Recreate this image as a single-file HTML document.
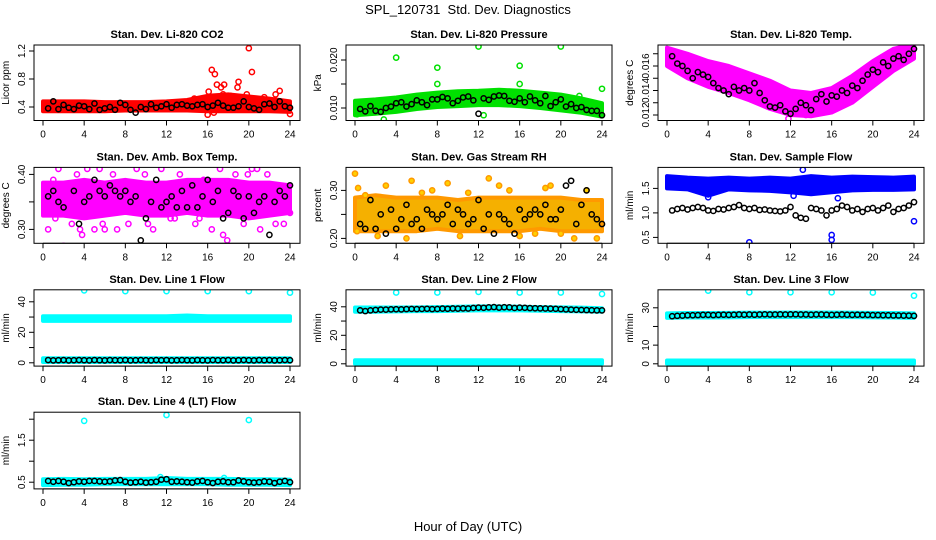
<!DOCTYPE html>
<html><head><meta charset="utf-8"><style>
body{margin:0;background:#fff}
svg{display:block;font-family:"Liberation Sans",Arial,sans-serif}
</style></head><body>
<svg id="c" width="936" height="540" viewBox="0 0 936 540">
<text x="468" y="14" text-anchor="middle" font-size="13">SPL_120731&#160; Std. Dev. Diagnostics</text>
<text x="468" y="531" text-anchor="middle" font-size="13">Hour of Day (UTC)</text>
</svg>
<script>
// shared categories
const bandHours=[0,2,4,6,8,10,12,14,16,18,20,22,24];
const xTicks=[0,4,8,12,16,20,24];
// P1 CO2
const co2Lo=[0.34,0.34,0.34,0.34,0.35,0.35,0.35,0.35,0.34,0.34,0.34,0.34,0.33];
const co2Hi=[0.48,0.48,0.48,0.47,0.47,0.47,0.48,0.50,0.56,0.58,0.55,0.52,0.48];
const co2OutH=[16.4,16.7,16.9,17.6,17.3,19.0,18.9,20.0,20.3,23.0,16.0,24.0,16.1,17.5,19.8,22.6,14.7,21.5,18.2,16.6];
const co2OutV=[0.93,0.87,0.72,0.72,0.68,0.76,0.68,1.24,0.90,0.63,0.29,0.30,0.62,0.58,0.58,0.58,0.52,0.54,0.56,0.32];
const co2Black=[0.38,0.48,0.37,0.43,0.39,0.37,0.42,0.41,0.37,0.45,0.36,0.38,0.40,0.36,0.46,0.43,0.36,0.32,0.40,0.37,0.44,0.39,0.41,0.44,0.39,0.43,0.44,0.42,0.41,0.43,0.44,0.40,0.42,0.46,0.42,0.39,0.39,0.41,0.48,0.40,0.38,0.36,0.44,0.45,0.40,0.48,0.41,0.39];
// P2 Pressure
const prLo=[0.0085,0.0088,0.0092,0.0098,0.0102,0.0104,0.0106,0.0106,0.0104,0.0100,0.0095,0.0090,0.0082];
const prHi=[0.0115,0.0118,0.0122,0.0128,0.0132,0.0135,0.0136,0.0138,0.0136,0.0132,0.0128,0.0120,0.0110];
const prOutH=[4,8,8,12,12.5,16,16,20,24,2.8,21.8,0.2];
const prOutV=[0.0205,0.0184,0.0150,0.0228,0.0085,0.0188,0.0150,0.0228,0.0140,0.0076,0.0125,0.0087];
const prBlack=[0.0098,0.0093,0.0104,0.0094,0.0092,0.0100,0.0103,0.0110,0.0112,0.0103,0.0108,0.0116,0.0112,0.0106,0.0118,0.0118,0.0123,0.0120,0.0110,0.0115,0.0122,0.0124,0.0116,0.0088,0.0120,0.0117,0.0124,0.0126,0.0125,0.0115,0.0113,0.0120,0.0112,0.0124,0.0116,0.0110,0.0125,0.0104,0.0112,0.0118,0.0103,0.0108,0.0100,0.0102,0.0096,0.0094,0.0094,0.0085];
// P3 Temp
const tLo=[0.0160,0.0150,0.0143,0.0138,0.0132,0.0125,0.0120,0.0119,0.0122,0.0130,0.0143,0.0156,0.0166];
const tHi=[0.0175,0.0170,0.0164,0.0160,0.0154,0.0148,0.0140,0.0138,0.0142,0.0152,0.0164,0.0174,0.0178];
const tOutH=[11.8,13.5,7,9.5];
const tOutV=[0.0117,0.0120,0.0152,0.0130];
const tBlack=[0.0168,0.0162,0.0160,0.0156,0.0150,0.0155,0.0153,0.0151,0.0146,0.0142,0.0140,0.0137,0.0143,0.0140,0.0142,0.0140,0.0146,0.0138,0.0132,0.0127,0.0126,0.0128,0.0123,0.0121,0.0125,0.0130,0.0128,0.0124,0.0133,0.0137,0.0131,0.0136,0.0135,0.0140,0.0138,0.0144,0.0142,0.0148,0.0153,0.0157,0.0155,0.0163,0.0160,0.0166,0.0168,0.0165,0.0170,0.0174];
// P4 Box temp
const bxLo=[0.325,0.325,0.32,0.325,0.33,0.325,0.325,0.33,0.325,0.325,0.32,0.325,0.33];
const bxHi=[0.385,0.385,0.39,0.385,0.39,0.385,0.385,0.39,0.39,0.39,0.385,0.385,0.38];
const bxOutH=[0.5,1,1.5,2,2.4,2.8,3.3,3.8,4.3,5,5.5,6,6.8,7.6,8.3,9.1,9.9,10.7,11.5,12.4,13.3,14.1,14.8,15.6,16.4,17.2,17.9,18.7,19.5,20.3,21.1,21.8,22.6,23.4,24,1.2,5.8,10.2,15.2,19.9,3.6,12.8,20.8,7.2,17.5];
const bxOutV=[0.30,0.39,0.41,0.27,0.42,0.31,0.40,0.29,0.41,0.30,0.41,0.30,0.40,0.42,0.31,0.41,0.40,0.30,0.41,0.32,0.40,0.42,0.31,0.39,0.30,0.41,0.28,0.40,0.31,0.41,0.30,0.40,0.31,0.31,0.33,0.32,0.31,0.31,0.32,0.40,0.30,0.32,0.41,0.30,0.29];
const bxBlack=[0.36,0.37,0.35,0.34,0.42,0.37,0.31,0.35,0.36,0.39,0.37,0.36,0.38,0.37,0.36,0.37,0.35,0.36,0.28,0.32,0.35,0.39,0.34,0.35,0.36,0.34,0.37,0.34,0.38,0.34,0.36,0.39,0.35,0.37,0.32,0.33,0.37,0.36,0.32,0.36,0.33,0.35,0.36,0.29,0.35,0.37,0.36,0.38];
// P5 RH
const rhLo=[0.215,0.215,0.215,0.215,0.22,0.215,0.215,0.215,0.215,0.22,0.215,0.215,0.215];
const rhHi=[0.285,0.29,0.285,0.285,0.285,0.28,0.285,0.285,0.285,0.285,0.285,0.28,0.28];
const rhOutH=[0,0.3,1,3,5.5,7.5,9,13,14,19,21.3,23.5,0.2,2.2,5,16,20,11,18.5,22.5,6.5,10.2,15,17.5];
const rhOutV=[0.335,0.305,0.29,0.31,0.32,0.30,0.315,0.325,0.31,0.31,0.20,0.20,0.215,0.205,0.20,0.205,0.21,0.295,0.305,0.30,0.295,0.205,0.30,0.21];
const rhBlack=[0.23,0.22,0.28,0.22,0.25,0.21,0.26,0.22,0.24,0.27,0.23,0.24,0.22,0.26,0.25,0.24,0.25,0.27,0.23,0.26,0.25,0.23,0.24,0.28,0.22,0.25,0.21,0.25,0.24,0.23,0.21,0.26,0.24,0.25,0.26,0.25,0.27,0.24,0.24,0.26,0.31,0.32,0.23,0.27,0.30,0.25,0.24,0.23];
// P6 Sample flow
const sfLo=[1.50,1.48,1.35,1.48,1.46,1.45,1.42,1.38,1.42,1.46,1.47,1.47,1.48];
const sfHi=[1.75,1.72,1.70,1.72,1.70,1.72,1.70,1.75,1.72,1.74,1.73,1.72,1.74];
const sfOutH=[8,16,16,24,13.2,12.3,16.6,4];
const sfOutV=[0.40,0.55,0.45,0.83,1.88,1.35,1.30,1.32];
const sfBlack=[1.05,1.08,1.10,1.07,1.10,1.12,1.10,1.05,1.04,1.08,1.07,1.10,1.12,1.16,1.10,1.08,1.10,1.06,1.07,1.05,1.04,1.03,1.05,1.12,0.95,0.90,0.88,1.10,1.08,1.05,0.95,1.05,1.08,1.15,1.12,1.05,1.08,1.02,1.08,1.10,1.05,1.10,1.15,1.02,1.08,1.10,1.15,1.22];
// P7 Line 1
const l1Lo=[27.5,27.5,27.5,27.5,27.5,27.5,27.5,27.5,27.5,27.5,27.5,27.5,27.5];
const l1Hi=[30.5,30.5,30.5,30.5,30.5,30.5,30.5,31,30.5,30.5,30.5,30.5,30.5];
const l1Lo2=[0.5,0.5,0.5,0.5,0.5,0.5,0.5,0.5,0.5,0.5,0.5,0.5,0.5];
const l1Hi2=[3,3,3,3,3,3,3,3,3,3,3,3,3];
const l1OutH=[4,8,12,16,20,24];
const l1OutV=[47.5,47,47,47,47,46];
const l1Black=[1.8,1.6,1.7,1.8,1.6,1.7,1.8,1.7,1.6,1.8,1.7,1.6,1.8,1.7,1.7,1.8,1.6,1.7,1.8,1.7,1.6,1.8,1.7,1.8,1.6,1.7,1.8,1.7,1.6,1.8,1.7,1.6,1.8,1.7,1.7,1.8,1.6,1.7,1.8,1.7,1.6,1.8,1.7,1.8,1.6,1.7,1.8,1.7];
// P8 Line 2
const l2Lo=[36.5,36.5,36.8,37,37,37.2,37.5,37.5,37.5,37.2,37,36.8,36.5];
const l2Hi=[39.5,39.5,39.5,39.6,39.8,40,40.3,40.3,40,39.8,39.6,39.4,39];
const l2Lo2=[0,0,0,0,0,0,0,0,0,0,0,0,0];
const l2Hi2=[2.5,2.5,2.5,2.5,2.5,2.5,2.5,2.5,2.5,2.5,2.5,2.5,2.5];
const l2OutH=[4,8,12,16,20,24];
const l2OutV=[50,50,50.5,50,50,49];
const l2Black=[37.5,37,37.5,37.8,38,38,38.2,38.3,38.2,38.4,38.5,38.4,38.5,38.6,38.4,38.5,38.7,38.6,38.8,38.7,38.9,38.8,39.2,39.4,39.3,39.6,39.8,39.4,39.7,39.6,39.2,39.4,39.3,39.1,39,38.9,38.8,38.7,38.6,38.4,38.2,38,37.9,37.8,37.7,37.6,37.5,37.5];
// P9 Line 3
const l3Lo=[24.6,24.8,24.8,24.9,25,25,25,25,25,25,24.9,24.8,24.6];
const l3Hi=[27,27.2,27.2,27.3,27.4,27.4,27.5,27.5,27.5,27.4,27.3,27.2,27];
const l3Lo2=[0,0,0,0,0,0,0,0,0,0,0,0,0];
const l3Hi2=[1.8,1.8,1.8,1.8,1.8,1.8,1.8,1.8,1.8,1.8,1.8,1.8,1.8];
const l3OutH=[4,8,12,16,20,24];
const l3OutV=[39.2,38.3,38.3,38.3,38.2,36.5];
const l3Black=[25.5,25.7,25.8,26,26,26.1,26.2,26.2,26.1,26.2,26.3,26.2,26.3,26.4,26.3,26.4,26.3,26.4,26.5,26.4,26.4,26.5,26.4,26.5,26.5,26.4,26.4,26.3,26.4,26.4,26.3,26.2,26.3,26.4,26.3,26.2,26.3,26.2,26.2,26.1,26.1,26,26,25.9,25.9,25.8,25.8,25.7];
// P10 Line 4
const l4Lo=[0.43,0.44,0.44,0.45,0.45,0.45,0.45,0.45,0.45,0.44,0.44,0.44,0.43];
const l4Hi=[0.57,0.58,0.57,0.58,0.58,0.58,0.6,0.58,0.58,0.58,0.57,0.57,0.56];
const l4OutH=[4,12,20,11.4,17.6];
const l4OutV=[1.96,2.10,1.98,0.62,0.6];
const l4Black=[0.53,0.51,0.53,0.51,0.48,0.50,0.52,0.51,0.53,0.53,0.52,0.51,0.52,0.54,0.55,0.51,0.49,0.50,0.51,0.49,0.50,0.51,0.56,0.57,0.51,0.52,0.51,0.50,0.49,0.52,0.53,0.50,0.48,0.51,0.52,0.50,0.50,0.54,0.52,0.50,0.49,0.50,0.52,0.51,0.48,0.51,0.53,0.50];

const NS='http://www.w3.org/2000/svg';
const svg=document.getElementById('c');
function mk(tag,attrs,parent){const e=document.createElementNS(NS,tag);for(const k in attrs)e.setAttribute(k,attrs[k]);(parent||svg).appendChild(e);return e;}
const colL=[34,346,658], boxW=266;
function rowTop(r){return 45+122.4*r;} function rowBot(r){return 120.5+122.8*r;}
const panels=[
 {id:'co2',t:'Stan. Dev. Li-820 CO2',yl:'Licor ppm',r:0,c:0,a:[0.4,62],b:[1.2,6],yt:[0.4,0.8,1.2],ytl:['0.4','0.8','1.2'],bands:[[co2Lo,co2Hi]],col:'#ff0000',fill:'none',oh:co2OutH,ov:co2OutV,bk:co2Black},
 {id:'pressure',t:'Stan. Dev. Li-820 Pressure',yl:'kPa',r:0,c:1,a:[0.010,63],b:[0.020,15],yt:[0.010,0.015,0.020],ytl:['0.010','','0.020'],bands:[[prLo,prHi]],col:'#00e000',fill:'none',oh:prOutH,ov:prOutV,bk:prBlack},
 {id:'temp',t:'Stan. Dev. Li-820 Temp.',yl:'degrees C',r:0,c:2,a:[0.012,70],b:[0.016,21],yt:[0.012,0.013,0.014,0.015,0.016,0.017],ytl:['0.012','','0.014','','0.016',''],bands:[[tLo,tHi]],col:'#ff00ff',fill:'none',oh:tOutH,ov:tOutV,bk:tBlack},
 {id:'box-temp',t:'Stan. Dev. Amb. Box Temp.',yl:'degrees C',r:1,c:0,a:[0.30,62],b:[0.40,7],yt:[0.30,0.35,0.40],ytl:['0.30','','0.40'],bands:[[bxLo,bxHi]],col:'#ff00ff',fill:'none',oh:bxOutH,ov:bxOutV,bk:bxBlack},
 {id:'gas-rh',t:'Stan. Dev. Gas Stream RH',yl:'percent',r:1,c:1,a:[0.20,71],b:[0.30,23],yt:[0.20,0.25,0.30],ytl:['0.20','','0.30'],bands:[[rhLo,rhHi]],col:'#ff9900',fill:'#ffd000',bandFill:'#f5b000',oh:rhOutH,ov:rhOutV,bk:rhBlack},
 {id:'sample-flow',t:'Stan. Dev. Sample Flow',yl:'ml/min',r:1,c:2,a:[0.5,70],b:[1.5,21],yt:[0.5,1.0,1.5],ytl:['0.5','1.0','1.5'],bands:[[sfLo,sfHi]],col:'#0000ff',fill:'none',oh:sfOutH,ov:sfOutV,bk:sfBlack},
 {id:'line1-flow',t:'Stan. Dev. Line 1 Flow',yl:'ml/min',r:2,c:0,a:[0,73],b:[40,12],yt:[0,10,20,30,40],ytl:['0','','20','','40'],bands:[[l1Lo,l1Hi],[l1Lo2,l1Hi2]],col:'#00ffff',fill:'none',oh:l1OutH,ov:l1OutV,bk:l1Black},
 {id:'line2-flow',t:'Stan. Dev. Line 2 Flow',yl:'ml/min',r:2,c:1,a:[0,74],b:[40,17],yt:[0,10,20,30,40],ytl:['0','','20','','40'],bands:[[l2Lo,l2Hi],[l2Lo2,l2Hi2]],col:'#00ffff',fill:'none',oh:l2OutH,ov:l2OutV,bk:l2Black},
 {id:'line3-flow',t:'Stan. Dev. Line 3 Flow',yl:'ml/min',r:2,c:2,a:[0,74],b:[30,18],yt:[0,10,20,30],ytl:['0','10','','30'],bands:[[l3Lo,l3Hi],[l3Lo2,l3Hi2]],col:'#00ffff',fill:'none',oh:l3OutH,ov:l3OutV,bk:l3Black},
 {id:'line4-flow',t:'Stan. Dev. Line 4 (LT) Flow',yl:'ml/min',r:3,c:0,a:[0.5,70],b:[1.5,28],yt:[0.5,1.0,1.5,2.0],ytl:['0.5','','1.5',''],bands:[[l4Lo,l4Hi]],col:'#00ffff',fill:'none',oh:l4OutH,ov:l4OutV,bk:l4Black}
];
panels.forEach(p=>{
 const L=colL[p.c],R=L+boxW,T=rowTop(p.r),B=rowBot(p.r);
 const g=mk('g',{});
 
 
 const clip=mk('clipPath',{id:'cl-'+p.id},g);mk('rect',{x:L,y:T,width:boxW,height:B-T},clip);
 const xs=h=>L+9+h*(247/24);
 const ys=v=>T+p.a[1]+(v-p.a[0])*(p.b[1]-p.a[1])/(p.b[0]-p.a[0]);
 const tt=mk('text',{x:L+boxW/2,y:T-7,'text-anchor':'middle','font-size':'11','font-weight':'bold'},g);tt.textContent=p.t;
 
 
 const plot=mk('g',{'clip-path':'url(#cl-'+p.id+')'},g);
 
 
 p.bands.forEach((bd,bi)=>{
  const lo=bd[0],hi=bd[1];let pts=[];
  bandHours.forEach((h,i)=>pts.push(xs(h)+','+ys(hi[i])));
  for(let i=bandHours.length-1;i>=0;i--)pts.push(xs(bandHours[i])+','+ys(lo[i]));
  const pg=mk('polygon',{points:pts.join(' '),fill:p.bandFill||p.col,stroke:p.col,'stroke-width':4,'stroke-linejoin':'round'},plot);
  
  
 });
 p.oh.forEach((h,i)=>{
  const ci=mk('circle',{cx:xs(h),cy:ys(p.ov[i]),r:2.6,fill:p.fill,stroke:p.col,'stroke-width':1.5},plot);
  
  
 });
 p.bk.forEach((v,i)=>{
  const ci=mk('circle',{cx:xs(0.5+i*0.5),cy:ys(v),r:2.6,fill:'none',stroke:'#000','stroke-width':1.5},plot);
  
  
 });
 const bx=mk('rect',{x:L,y:T,width:boxW,height:B-T,fill:'none',stroke:'#000','stroke-width':1},g);
 
 
 mk('line',{x1:xs(0),x2:xs(24),y1:B,y2:B,stroke:'#000'},g);
 xTicks.forEach(h=>{
  mk('line',{x1:xs(h),x2:xs(h),y1:B,y2:B+5,stroke:'#000'},g);
  const tx=mk('text',{x:xs(h),y:B+17,'text-anchor':'middle','font-size':'10'},g);tx.textContent=h;
  
  
 });
 p.yt.forEach((v,i)=>{
  const y=ys(v);
  mk('line',{x1:L-5,x2:L,y1:y,y2:y,stroke:'#000'},g);
  if(p.ytl[i]){const tx=mk('text',{x:L-9,y:y,'text-anchor':'middle','font-size':'10',transform:'rotate(-90 '+(L-9)+' '+y+')'},g);tx.textContent=p.ytl[i];
  
  }
 });
 const yc=(T+B)/2;
 const yl=mk('text',{x:L-25,y:yc,'text-anchor':'middle','font-size':'10',transform:'rotate(-90 '+(L-25)+' '+yc+')'},g);yl.textContent=p.yl;
 
 
});
</script>
</body></html>
